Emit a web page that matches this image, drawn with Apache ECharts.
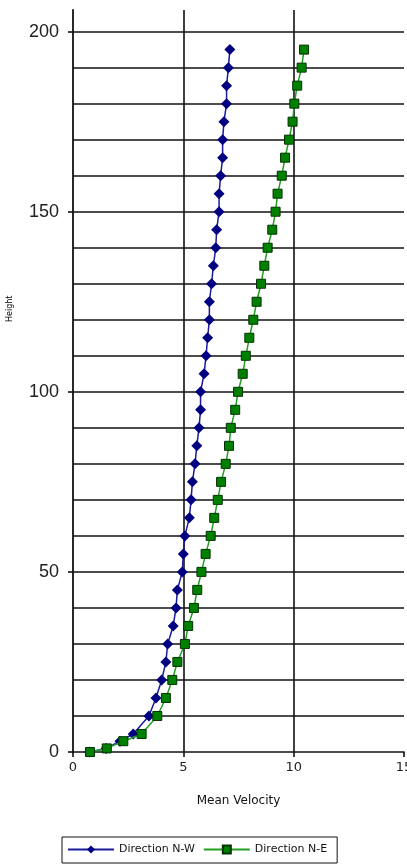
<!DOCTYPE html>
<html>
<head>
<meta charset="utf-8">
<script src="https://cdn.jsdelivr.net/npm/echarts@6/dist/echarts.min.js"></script>
<style>
html,body{margin:0;padding:0;background:#fff;}
#c{width:407px;height:864px;}
</style>
</head>
<body>
<div id="c"></div>
<script>
var heights = [0,1,3,5,10,15,20,25,30,35,40,45,50,55,60,65,70,75,80,85,90,95,100,105,110,115,120,125,130,135,140,145,150,155,160,165,170,175,180,185,190,195];
var velNW = [0.75,1.5,2.13,2.73,3.44,3.76,4.02,4.21,4.29,4.54,4.67,4.73,4.95,5.0,5.07,5.27,5.35,5.41,5.53,5.61,5.71,5.78,5.78,5.94,6.03,6.10,6.18,6.18,6.28,6.36,6.47,6.51,6.62,6.62,6.69,6.78,6.78,6.84,6.96,6.96,7.04,7.11];
var velNE = [0.77,1.53,2.28,3.11,3.82,4.21,4.50,4.73,5.07,5.22,5.48,5.63,5.82,6.01,6.24,6.40,6.56,6.71,6.92,7.07,7.15,7.35,7.48,7.69,7.83,7.99,8.17,8.32,8.52,8.67,8.82,9.03,9.18,9.27,9.46,9.61,9.79,9.95,10.03,10.16,10.36,10.47];
var seriesNames = ['Direction N-W','Direction N-E'];
var yLabelTicks = [0,50,100,150,200];
var xTitle = 'Mean Velocity';
var yTitle = 'Height';

function pairs(xs){ return heights.map(function(h,i){ return [xs[i], h]; }); }

var chart = echarts.init(document.getElementById('c'), null, {renderer:'canvas'});
chart.setOption({
  animation:false,
  backgroundColor:'#fff',
  grid:{left:73, right:3, top:10, bottom:112, containLabel:false, outerBoundsMode:'none'},
  graphic:[{type:'text', x:6, y:322, rotation:Math.PI/2, originX:0, originY:0,
    style:{text:yTitle, fontSize:8, fill:'#000', fontFamily:'DejaVu Sans'}}],
  xAxis:{type:'value', min:0, max:15, interval:5,
    name:xTitle, nameLocation:'middle', nameGap:43,
    nameTextStyle:{fontSize:12, color:'#111', fontFamily:'DejaVu Sans'},
    axisLine:{show:true, lineStyle:{color:'#111', width:1.6}},
    axisTick:{show:true, length:5, lineStyle:{color:'#111', width:1.6}},
    axisLabel:{fontSize:13, color:'#222', margin:9, fontFamily:'DejaVu Sans', hideOverlap:false},
    splitLine:{show:true, showMinLine:false, showMaxLine:false, lineStyle:{color:'#111', width:1.6}}
  },
  yAxis:[
    {type:'value', min:0, max:206, interval:50, position:'left',
     axisLine:{show:true, onZero:false, lineStyle:{color:'#111', width:1.8}},
     axisTick:{show:true, length:5, customValues:yLabelTicks, lineStyle:{color:'#111', width:1.6}},
     axisLabel:{show:true, customValues:yLabelTicks, fontSize:18, color:'#222', margin:14, fontFamily:'Liberation Sans'},
     splitLine:{show:false}},
    {type:'value', min:0, max:206, interval:10, position:'left',
     axisLine:{show:false}, axisTick:{show:false}, axisLabel:{show:false},
     splitLine:{show:true, showMinLine:false, showMaxLine:false, lineStyle:{color:'#111', width:1.6}}}
  ],
  legend:{show:true, left:62, top:837, orient:'horizontal',
    borderColor:'#111', borderWidth:1, padding:[7,10,8,5],
    itemWidth:46, itemHeight:10, itemGap:8,
    textStyle:{fontSize:11, color:'#111', fontFamily:'DejaVu Sans'},
    data:seriesNames},
  series:[
    {name:seriesNames[0], type:'line', xAxisIndex:0, yAxisIndex:0, data:pairs(velNW),
     symbol:'diamond', symbolSize:11, showAllSymbol:true,
     lineStyle:{color:'#1a1a9a', width:1.5},
     itemStyle:{color:'#000080', borderColor:'#000080', borderWidth:0}, z:3},
    {name:seriesNames[1], type:'line', xAxisIndex:0, yAxisIndex:0, data:pairs(velNE),
     symbol:'rect', symbolSize:9, showAllSymbol:true,
     lineStyle:{color:'#22a022', width:1.5},
     itemStyle:{color:'#008000', borderColor:'#003300', borderWidth:1}, z:4}
  ]
});
</script>
</body>
</html>
